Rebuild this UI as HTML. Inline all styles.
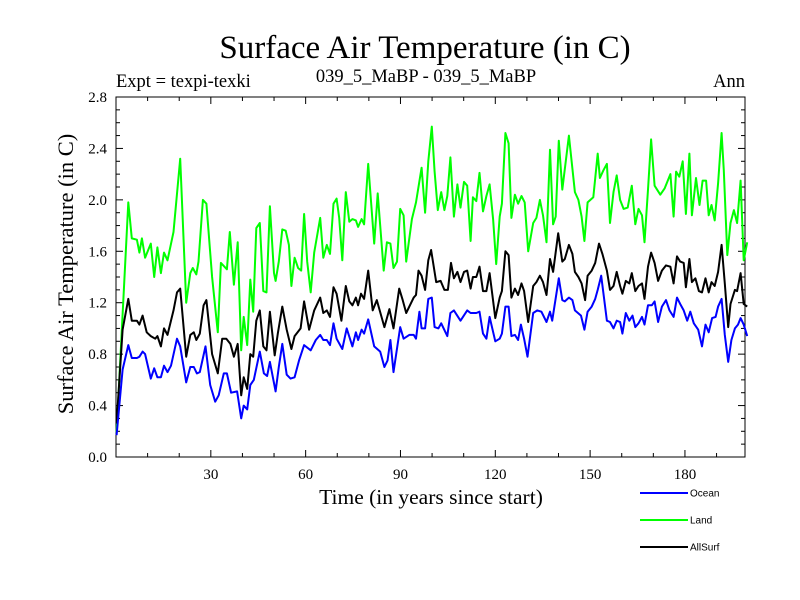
<!DOCTYPE html>
<html><head><meta charset="utf-8"><style>
html,body{margin:0;padding:0;background:#fff;}
svg{display:block;}
</style></head><body>
<svg id="chart" width="800" height="600" xmlns="http://www.w3.org/2000/svg" font-family="'Liberation Serif', serif">
<rect width="800" height="600" fill="#fff"/>
<text x="425" y="58" font-size="33" text-anchor="middle">Surface Air Temperature (in C)</text>
<text x="116" y="87" font-size="18.5">Expt = texpi-texki</text>
<text x="426" y="82" font-size="18.5" text-anchor="middle">039_5_MaBP - 039_5_MaBP</text>
<text x="745" y="87" font-size="18.5" text-anchor="end">Ann</text>
<text transform="translate(73,274) rotate(-90)" font-size="22.5" text-anchor="middle">Surface Air Temperature (in C)</text>
<text x="431" y="504" font-size="21.5" text-anchor="middle">Time (in years since start)</text>
<g id="axes"></g>
<g id="series"></g>
<g id="legend" font-family="'Liberation Sans', sans-serif" font-size="10"></g>
</svg>
<script>
const yTicks = [0.0,0.4,0.8,1.2,1.6,2.0,2.4,2.8];
const xTicks = [30,60,90,120,150,180];
const seriesNames = ["Ocean","Land","AllSurf"];
const seriesColors = ["#0000ff","#00ff00","#000000"];

const landYears = [0.2,3.9,5.0,6.6,7.4,8.2,9.2,11.0,12.1,13.1,14.2,15.2,16.3,18.2,20.3,22.2,23.5,24.3,25.4,26.1,27.5,28.6,30.4,32.2,33.2,35.1,36.0,37.3,38.5,39.6,40.4,41.5,42.5,43.4,44.4,45.5,46.6,47.6,48.7,50.0,50.5,51.5,52.6,53.7,54.7,55.5,56.5,57.6,58.6,59.5,60.5,61.6,62.7,64.6,65.6,66.7,67.7,68.8,69.8,70.6,71.6,72.7,73.8,74.8,75.9,76.6,77.7,78.5,79.8,81.7,82.8,84.7,85.7,86.8,87.8,88.9,89.9,91.0,91.8,93.6,94.9,96.7,97.8,98.8,99.9,100.8,101.8,102.9,103.9,104.8,105.8,106.9,108.0,109.0,110.1,111.1,112.2,112.9,114.0,115.0,116.1,117.2,118.2,119.3,120.3,121.4,122.1,123.2,124.2,125.1,126.2,127.2,128.3,129.3,130.4,132.0,133.0,134.1,135.1,136.2,137.3,138.3,139.1,140.1,141.2,143.3,145.2,146.3,147.3,148.2,149.2,151.0,152.4,153.1,154.2,155.3,156.3,157.4,158.4,159.5,160.6,161.9,163.2,164.3,165.3,166.4,167.2,168.3,169.3,170.4,172.2,173.6,175.4,176.4,177.2,178.2,179.3,180.3,181.4,182.2,183.5,184.6,185.6,186.7,187.5,188.4,189.4,190.5,191.6,192.3,193.4,194.4,195.5,196.5,197.6,198.6,199.7];
const landValues = [0.19,1.98,1.70,1.69,1.59,1.70,1.55,1.66,1.40,1.63,1.43,1.59,1.53,1.75,2.32,1.20,1.43,1.47,1.42,1.52,2.00,1.97,1.40,0.97,1.51,1.46,1.75,1.34,1.67,0.83,1.09,0.87,1.38,1.13,1.78,1.82,1.29,1.28,1.95,1.43,1.37,1.52,1.77,1.76,1.65,1.33,1.55,1.47,1.45,1.89,1.52,1.28,1.59,1.86,1.55,1.65,1.58,1.97,2.01,1.86,1.53,2.06,1.83,1.85,1.84,1.79,1.85,1.81,2.28,1.66,2.05,1.45,1.67,1.66,1.47,1.52,1.93,1.88,1.52,1.85,1.98,2.25,1.90,2.30,2.57,2.22,1.92,2.06,1.92,2.03,2.33,1.87,2.12,1.94,2.14,2.11,1.68,2.02,1.99,2.21,1.91,2.03,2.12,1.85,1.50,1.87,1.97,2.52,2.44,1.86,2.04,1.97,2.03,1.98,1.60,1.82,1.86,2.00,1.88,1.67,2.39,1.81,1.87,2.46,2.08,2.50,2.06,2.00,1.87,1.68,1.98,2.02,2.36,2.17,2.23,2.28,1.82,2.06,2.19,2.00,1.93,1.94,2.11,1.81,1.93,1.88,1.67,2.08,2.47,2.11,2.04,2.09,2.20,1.87,2.22,2.18,2.30,1.89,2.36,1.88,2.17,1.96,2.15,2.15,1.88,1.96,1.84,2.13,2.52,2.23,1.57,1.82,1.92,1.82,2.15,1.53,1.67];

const allYears = [0.2,2.1,3.9,5.0,6.6,7.4,8.4,9.7,11.0,12.4,13.1,14.2,15.2,16.3,18.2,19.3,20.3,22.2,23.5,24.6,25.4,26.5,27.7,28.6,30.4,32.2,33.6,34.9,36.2,37.3,38.5,39.6,40.4,41.5,42.5,43.4,44.4,45.5,46.6,47.6,48.7,50.2,51.2,52.6,54.0,55.5,56.5,58.4,59.5,61.1,62.7,64.6,65.6,66.7,67.7,68.8,69.8,71.3,72.7,73.8,74.8,75.9,76.6,77.5,78.5,79.8,81.2,82.5,84.9,86.5,87.8,89.6,90.7,91.8,94.2,94.9,95.7,96.7,97.8,98.8,99.7,101.3,102.7,103.9,105.0,106.0,106.9,108.0,109.0,110.1,111.1,112.2,112.9,114.0,115.0,116.1,117.2,118.2,120.0,121.4,122.1,123.2,124.2,125.1,126.2,127.2,128.3,129.1,130.4,132.0,133.0,134.1,135.1,136.2,137.3,138.3,139.9,141.2,142.0,143.3,144.4,145.2,146.3,147.3,148.4,149.2,150.5,151.6,152.8,153.9,155.3,156.3,157.4,158.4,159.5,160.2,161.3,162.4,163.2,164.3,165.3,166.4,167.2,168.3,169.3,170.4,171.5,172.7,174.0,175.4,176.4,177.5,178.5,179.6,180.3,181.4,182.2,183.3,184.4,185.4,186.5,187.5,188.4,189.4,190.5,191.6,192.6,193.7,194.4,195.8,196.5,197.6,198.6,199.7];
const allValues = [0.26,0.99,1.23,1.06,1.06,1.03,1.10,0.97,0.94,0.92,0.94,0.86,1.00,0.95,1.14,1.28,1.31,0.78,0.95,0.97,0.91,0.96,1.18,1.22,0.80,0.65,0.92,0.92,0.88,0.78,0.88,0.48,0.62,0.53,0.80,0.78,1.06,1.14,0.86,0.83,1.13,0.79,0.96,1.17,0.99,0.84,0.94,1.00,1.21,0.99,1.14,1.24,1.12,1.14,1.09,1.32,1.27,1.06,1.33,1.21,1.18,1.24,1.18,1.27,1.23,1.45,1.14,1.22,1.01,1.15,1.00,1.31,1.22,1.12,1.24,1.26,1.45,1.41,1.30,1.53,1.61,1.36,1.37,1.30,1.30,1.51,1.39,1.44,1.36,1.44,1.45,1.31,1.40,1.40,1.48,1.29,1.29,1.43,1.08,1.24,1.29,1.60,1.57,1.24,1.31,1.26,1.35,1.29,1.05,1.33,1.36,1.41,1.36,1.26,1.54,1.44,1.74,1.52,1.54,1.65,1.58,1.44,1.40,1.35,1.22,1.41,1.45,1.51,1.66,1.58,1.45,1.30,1.33,1.44,1.33,1.27,1.37,1.35,1.43,1.29,1.33,1.35,1.23,1.48,1.59,1.51,1.37,1.45,1.49,1.48,1.35,1.56,1.52,1.51,1.32,1.54,1.36,1.39,1.29,1.28,1.39,1.28,1.36,1.33,1.44,1.65,1.35,1.01,1.19,1.30,1.29,1.43,1.19,1.17];

const oceanYears = [0.2,2.1,3.9,5.0,6.6,7.4,8.4,9.2,11.0,12.1,13.1,14.2,15.2,16.3,17.4,19.3,20.3,22.2,23.5,24.6,25.6,26.5,28.3,29.8,31.4,32.5,34.1,35.1,36.4,38.3,39.6,40.4,41.5,42.5,43.6,45.5,46.8,47.8,48.7,50.5,51.5,52.6,54.0,55.2,56.5,57.9,59.5,61.6,63.2,64.6,65.6,66.7,67.7,68.8,69.8,71.6,73.0,74.8,75.9,76.6,77.7,78.5,79.8,81.7,83.6,84.9,85.9,86.8,87.8,89.9,91.0,92.8,94.2,94.9,96.0,96.7,97.8,98.8,99.9,100.8,102.0,102.9,104.8,105.8,106.9,109.0,111.1,112.2,114.0,115.0,116.1,117.2,118.2,120.0,121.4,122.1,123.2,124.2,125.1,126.2,127.2,128.1,129.1,130.2,132.0,133.3,134.6,136.2,137.3,138.0,140.1,141.2,142.0,143.3,144.4,145.2,147.1,148.2,149.2,150.5,151.6,152.4,153.5,155.3,156.3,157.4,158.4,159.5,160.2,161.3,162.4,163.4,164.3,165.3,166.4,167.2,168.3,169.5,170.4,171.5,172.7,174.0,175.1,176.4,177.5,178.5,179.6,180.7,181.7,182.8,184.2,185.4,186.5,187.5,188.6,189.7,190.5,191.6,192.6,193.7,194.7,195.8,196.8,197.6,198.6,199.7];
const oceanValues = [0.17,0.68,0.87,0.77,0.77,0.78,0.82,0.80,0.61,0.69,0.62,0.62,0.71,0.66,0.71,0.92,0.86,0.58,0.70,0.70,0.65,0.66,0.86,0.56,0.43,0.48,0.65,0.65,0.50,0.51,0.30,0.40,0.37,0.56,0.60,0.82,0.65,0.63,0.74,0.51,0.70,0.88,0.64,0.61,0.62,0.75,0.87,0.83,0.91,0.95,0.91,0.91,0.87,1.04,0.92,0.84,1.00,0.86,0.97,0.91,0.99,0.96,1.07,0.86,0.82,0.70,0.75,0.91,0.66,1.01,0.92,0.95,0.95,0.92,1.13,1.00,1.00,1.23,1.24,1.01,1.00,1.04,0.94,1.12,1.14,1.06,1.14,1.12,1.12,1.13,0.96,0.92,1.09,0.90,0.92,0.96,1.17,1.17,0.94,0.95,0.91,1.03,0.92,0.78,1.12,1.14,1.13,1.05,1.13,1.06,1.39,1.22,1.21,1.24,1.22,1.14,1.10,0.99,1.13,1.17,1.23,1.30,1.41,1.06,1.05,1.00,1.06,1.05,0.96,1.12,1.06,1.10,1.01,1.04,1.09,1.03,1.18,1.18,1.21,1.05,1.17,1.22,1.14,1.09,1.24,1.19,1.14,1.06,1.13,1.04,0.99,0.86,1.03,0.97,1.08,1.09,1.17,1.23,0.95,0.74,0.91,1.00,1.03,1.08,1.03,0.94];

const NS = "http://www.w3.org/2000/svg";
const L = 116, R = 745, T = 97, B = 457;
const xMin = 0, xMax = 199, yMin = 0, yMax = 2.8;
function xs(v){ return L + (v - xMin) / (xMax - xMin) * (R - L); }
function ys(v){ return B - (v - yMin) / (yMax - yMin) * (B - T); }
function mk(tag, attrs, parent){ const e = document.createElementNS(NS, tag); for (const k in attrs) e.setAttribute(k, attrs[k]); parent.appendChild(e); return e; }

const axes = document.getElementById('axes');
const frame = mk('rect', {x:L, y:T, width:R-L, height:B-T, fill:'none', stroke:'#000', 'stroke-width':1}, axes);



for (let i = 0; i <= 28; i++) {
  const v = i / 10, y = ys(v), len = (i % 4 === 0) ? 7 : 4;
  const t1 = mk('line', {x1:L, x2:L+len, y1:y, y2:y, stroke:'#000', 'stroke-width':1}, axes);
  
  
  const t2 = mk('line', {x1:R, x2:R-len, y1:y, y2:y, stroke:'#000', 'stroke-width':1}, axes);
  
  
}
yTicks.forEach(v => {
  const t = mk('text', {x:L-9, y:ys(v)+5, 'font-size':15, 'text-anchor':'end'}, axes);
  t.textContent = v.toFixed(1);
  
  
});
for (let v = 10; v <= 190; v += 10) {
  const x = xs(v), len = (v % 30 === 0) ? 7 : 4;
  const t1 = mk('line', {x1:x, x2:x, y1:B, y2:B-len, stroke:'#000', 'stroke-width':1}, axes);
  
  
  const t2 = mk('line', {x1:x, x2:x, y1:T, y2:T+len, stroke:'#000', 'stroke-width':1}, axes);
  
  
}
xTicks.forEach(v => {
  const t = mk('text', {x:xs(v), y:B+22, 'font-size':15, 'text-anchor':'middle'}, axes);
  t.textContent = String(v);
  
  
});

const seriesG = document.getElementById('series');
const allData = [[oceanYears, oceanValues], [landYears, landValues], [allYears, allValues]];
const drawOrder = [1, 2, 0];
drawOrder.forEach(i => {
  const [xv, yv] = allData[i];
  const pts = xv.map((x, j) => xs(x).toFixed(1) + ',' + ys(yv[j]).toFixed(1)).join(' ');
  const p = mk('polyline', {points:pts, fill:'none', stroke:seriesColors[i], 'stroke-width':2, 'stroke-linejoin':'round'}, seriesG);
  
  
});

const legend = document.getElementById('legend');
const legendY = [493, 520, 547];
seriesNames.forEach((n, i) => {
  const ln = mk('line', {x1:640, x2:688, y1:legendY[i], y2:legendY[i], stroke:seriesColors[i], 'stroke-width':2}, legend);
  
  
  const t = mk('text', {x:690, y:legendY[i]+3.5}, legend);
  t.textContent = n;
  
  
});
</script>
</body></html>
